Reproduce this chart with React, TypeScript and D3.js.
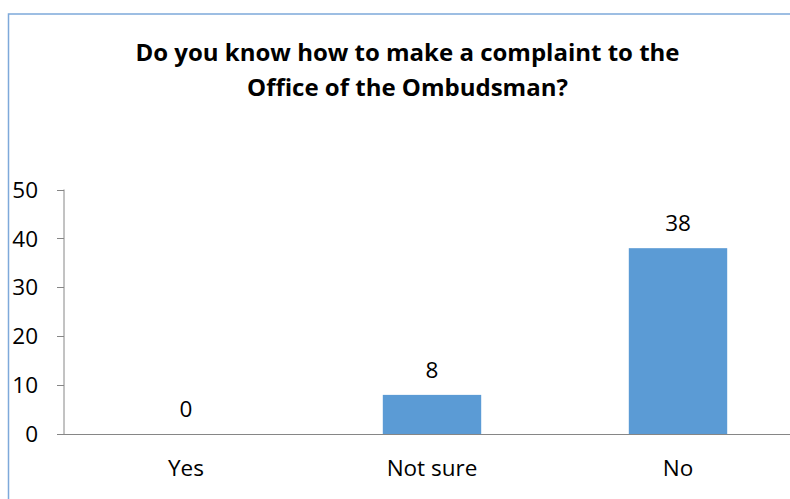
import React from "react";
import * as d3 from "d3";

const categories = ["Yes", "Not sure", "No"];
const values = [0, 8, 38];
const yTicks = [0, 10, 20, 30, 40, 50];
const titleLines = ["Do you know how to make a complaint to the", "Office of the Ombudsman?"];

const W = 790;
const H = 499;
const FONT = "'Open Sans', sans-serif";

export default function App() {
  const y = d3.scaleLinear().domain([0, 50]).range([434, 189.5]);
  const x = d3
    .scaleBand<string>()
    .domain(categories)
    .range([63, 801])
    .paddingInner(0.6)
    .paddingOuter(0.3);
  const axisX = 64;
  const axisColor = "#868686";
  const fs = 22.5;

  return (
    <svg
      width={W}
      height={H}
      style={{ position: "absolute", left: 0, top: 0, background: "#fff" }}
      fontFamily={FONT}
    >
      <rect x={8.5} y={14} width={W + 20} height={H + 20} fill="#fff" stroke="#7EA9DA" strokeWidth={1.5} />
      {titleLines.map((t, i) => (
        <text
          key={i}
          x={407.5}
          y={61 + i * 35}
          textAnchor="middle"
          fontSize={24}
          fontWeight="bold"
          fill="#000"
        >
          {t}
        </text>
      ))}
      {/* y axis */}
      <line x1={axisX} x2={axisX} y1={y(50)} y2={y(0)} stroke={axisColor} strokeWidth={1} />
      {yTicks.map((t) => (
        <g key={t}>
          <line x1={57} x2={axisX} y1={Math.round(y(t)) + 0.5} y2={Math.round(y(t)) + 0.5} stroke={axisColor} />
          <text x={38} y={y(t)} dy="0.36em" textAnchor="end" fontSize={fs} fill="#000">
            {t}
          </text>
        </g>
      ))}
      {/* bars */}
      {categories.map((c, i) => (
        <g key={c}>
          {values[i] > 0 && (
            <rect
              x={x(c)}
              y={y(values[i])}
              width={x.bandwidth()}
              height={y(0) - y(values[i])}
              fill="#5B9BD5"
            />
          )}
          <text
            x={(x(c) as number) + x.bandwidth() / 2}
            y={y(values[i]) - 17}
            textAnchor="middle"
            fontSize={fs}
            fill="#000"
          >
            {values[i]}
          </text>
          <text
            x={(x(c) as number) + x.bandwidth() / 2}
            y={476}
            textAnchor="middle"
            fontSize={fs}
            fill="#000"
          >
            {c}
          </text>
        </g>
      ))}
      {/* baseline */}
      <line x1={axisX} x2={W} y1={Math.round(y(0)) + 0.5} y2={Math.round(y(0)) + 0.5} stroke={axisColor} />
    </svg>
  );
}
